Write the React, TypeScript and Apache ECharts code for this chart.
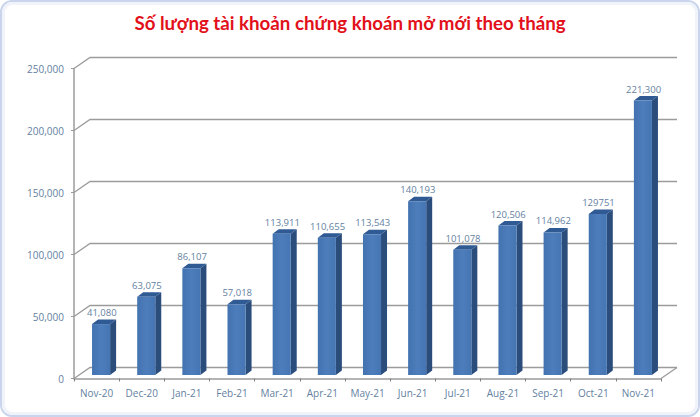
import React, { useEffect, useRef } from "react";
import * as echarts from "echarts";

const titleText = "Số lượng tài khoản chứng khoán mở mới theo tháng";
const categories = ["Nov-20","Dec-20","Jan-21","Feb-21","Mar-21","Apr-21","May-21","Jun-21","Jul-21","Aug-21","Sep-21","Oct-21","Nov-21"];
const accounts = [41080,63075,86107,57018,113911,110655,113543,140193,101078,120506,114962,129751,221300];
const dataLabels = ["41,080","63,075","86,107","57,018","113,911","110,655","113,543","140,193","101,078","120,506","114,962","129751","221,300"];
const yTicks = [0,50000,100000,150000,200000,250000];

const LABEL_COLOR = "#64819f";
const GRID_COLOR = "#9b9b9b";
const FONT = "'Open Sans', sans-serif";
const DEPTH_X = 16, DEPTH_Y = 11;
const BAR_SHIFT_X = 4.5, BAR_SHIFT_Y = 3.5, BAR_DX = 6, BAR_DY = 4.5;

export default function App() {
  const ref = useRef<HTMLDivElement>(null);
  useEffect(() => {
    const chart = echarts.init(ref.current!, undefined, { renderer: "svg" });
    chart.setOption({
      animation: false,
      backgroundColor: "#ffffff",
      graphic: [
        { type: "rect", z: -10, silent: true, shape: { x: 1, y: 1, width: 698, height: 415, r: 11 },
          style: { fill: "#ffffff", stroke: "#c9d5ec", lineWidth: 2 } },
        { type: "rect", z: -9, silent: true, shape: { x: 3.5, y: 3.5, width: 693, height: 410, r: 9 },
          style: { fill: "none", stroke: "#f0f3f9", lineWidth: 3 } },
      ],
      title: {
        text: titleText, left: 345, top: 8, textAlign: "center",
        textStyle: { color: "#e2101a", fontSize: 18.7, fontWeight: "bold", fontFamily: "Lato, 'Open Sans', sans-serif" },
      },
      grid: { left: 74, right: 39, top: 68.5, bottom: 38.5 },
      xAxis: {
        type: "category", data: categories,
        axisLine: { lineStyle: { color: GRID_COLOR, width: 1.5 } },
        axisTick: { show: true, length: 3, inside: false, lineStyle: { color: "#7f7f7f" } },
        axisLabel: { color: LABEL_COLOR, fontSize: 10, fontFamily: FONT, margin: 9 },
      },
      yAxis: {
        type: "value", min: 0, max: 250000, interval: 50000,
        axisLine: { show: true, lineStyle: { color: GRID_COLOR, width: 1.5 } },
        axisTick: { show: true, length: 3, lineStyle: { color: GRID_COLOR } },
        splitLine: { show: false },
        axisLabel: { color: LABEL_COLOR, fontSize: 10, fontFamily: FONT, margin: 10,
          formatter: (v: number) => v.toLocaleString("en-US") },
      },
      series: [
        {
          type: "custom", silent: true, z: 1, data: yTicks.map((v) => [v]), encode: { y: 0 },
          renderItem: (params: any, api: any) => {
            const cs = params.coordSys;
            const y = api.coord([0, api.value(0)])[1];
            const x0 = cs.x, x1 = cs.x + cs.width;
            const style = { stroke: GRID_COLOR, lineWidth: 1.3, fill: "none" };
            const children: any[] = [
              { type: "polyline", shape: { points: [[x0, y], [x0 + DEPTH_X, y - DEPTH_Y], [x1 + DEPTH_X, y - DEPTH_Y]] }, style },
            ];
            if (api.value(0) === 0) {
              children.push({ type: "line", shape: { x1, y1: y, x2: x1 + DEPTH_X, y2: y - DEPTH_Y }, style });
            }
            return { type: "group", children };
          },
        },
        {
          type: "custom", silent: true, z: 3, data: accounts.map((v, i) => [i, v, dataLabels[i]]),
          encode: { x: 0, y: 1 },
          renderItem: (_: any, api: any) => {
            const [cx, top] = api.coord([api.value(0), api.value(1)]);
            const base = api.coord([api.value(0), 0])[1];
            const w = api.size([1, 0])[0] * 0.4;
            const l = cx - w / 2 + BAR_SHIFT_X, r = l + w;
            const t = top - BAR_SHIFT_Y, b = base - BAR_SHIFT_Y;
            return {
              type: "group",
              children: [
                { type: "polygon", shape: { points: [[r, t], [r + BAR_DX, t - BAR_DY], [r + BAR_DX, b - BAR_DY], [r, b]] }, style: { fill: "#2b4d7c" } },
                { type: "polygon", shape: { points: [[l, t], [l + BAR_DX, t - BAR_DY], [r + BAR_DX, t - BAR_DY], [r, t]] }, style: { fill: "#2f5a94" } },
                { type: "rect", shape: { x: l, y: t, width: w, height: b - t },
                  style: { fill: new echarts.graphic.LinearGradient(0, 0, 1, 0, [
                    { offset: 0, color: "#4272af" }, { offset: 0.5, color: "#4d7dba" }, { offset: 1, color: "#4576b3" },
                  ]) } },
                { type: "text", x: cx + 5.2, y: t - BAR_DY - 7,
                  style: { text: String(api.value(2)), fill: LABEL_COLOR, fontSize: 9.5, fontFamily: FONT, align: "center", verticalAlign: "middle" } },
              ],
            };
          },
        },
      ],
    });
    return () => chart.dispose();
  }, []);
  return <div ref={ref} style={{ position: "absolute", left: 0, top: 0, width: 700, height: 417 }} />;
}
